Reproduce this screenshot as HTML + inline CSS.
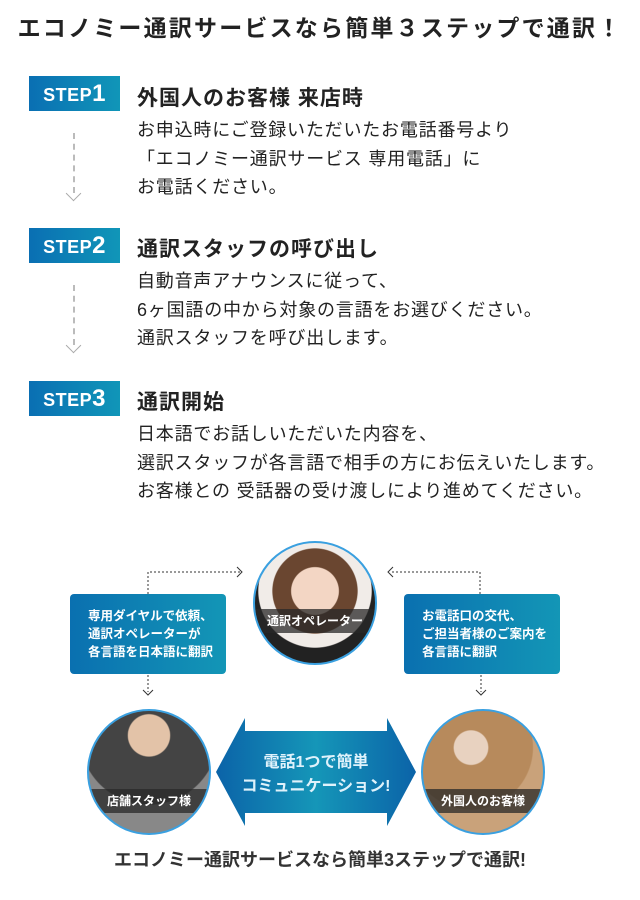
<!DOCTYPE html>
<html><head><meta charset="utf-8"><style>
body{margin:0;width:640px;height:900px;background:#fff;position:relative;font-family:"Liberation Sans","Noto Sans CJK JP",sans-serif;color:#222;overflow:hidden}
.a{position:absolute;white-space:nowrap}
.title{left:0;width:640px;text-align:center;top:9px;font-size:23px;font-weight:bold;letter-spacing:2.2px}
.badge{left:29px;width:91px;height:35px;background:linear-gradient(90deg,#0a6fb3,#1096b8);color:#fff;font-weight:bold;font-size:18px;line-height:35px;text-align:center;letter-spacing:0.5px}
.badge b{font-size:24px}
.h{left:137px;font-size:21px;font-weight:bold;letter-spacing:1px}
.p{left:137px;font-size:18px;line-height:28.5px;letter-spacing:0.8px}
.dash{left:73px;width:0;border-left:2px dashed #bbb}
.chev{width:10px;height:10px;border-right:1.5px solid #aaa;border-bottom:1.5px solid #aaa;transform:rotate(45deg)}
.box{width:156px;height:80px;border-radius:4px;background:linear-gradient(90deg,#0a70b0,#1396b6);color:#fff;font-size:12.5px;font-weight:bold;line-height:18px;box-sizing:border-box;padding:13px 0 0 18px}
.circ{border-radius:50%;border:2px solid #3aa0e0;overflow:hidden;box-sizing:border-box}
.lab{position:absolute;left:0;right:0;height:24px;background:rgba(40,40,40,.75);color:#fff;font-size:12px;font-weight:bold;text-align:center;line-height:24px}
</style></head><body>
<div class="a title">エコノミー通訳サービスなら簡単３ステップで通訳！</div>

<div class="a badge" style="top:76px">STEP<b>1</b></div>
<div class="a h" style="top:82px">外国人のお客様 来店時</div>
<div class="a p" style="top:116px">お申込時にご登録いただいたお電話番号より<br>「エコノミー通訳サービス 専用電話」に<br>お電話ください。</div>
<div class="a dash" style="top:133px;height:60px"></div>
<div class="a chev" style="left:68px;top:188px"></div>

<div class="a badge" style="top:228px">STEP<b>2</b></div>
<div class="a h" style="top:233px">通訳スタッフの呼び出し</div>
<div class="a p" style="top:267px">自動音声アナウンスに従って、<br>6ヶ国語の中から対象の言語をお選びください。<br>通訳スタッフを呼び出します。</div>
<div class="a dash" style="top:285px;height:60px"></div>
<div class="a chev" style="left:68px;top:340px"></div>

<div class="a badge" style="top:381px">STEP<b>3</b></div>
<div class="a h" style="top:386px">通訳開始</div>
<div class="a p" style="top:420px">日本語でお話しいただいた内容を、<br>選訳スタッフが各言語で相手の方にお伝えいたします。<br>お客様との 受話器の受け渡しにより進めてください。</div>

<svg class="a" style="left:0;top:530px" width="640" height="320">
<g fill="none" stroke="#333" stroke-dasharray="2,2" stroke-width="1">
<path d="M148 64 V42 H240"/><path d="M480 64 V42 H390"/>
<path d="M148 145 V162"/><path d="M481 145 V162"/>
</g>
<g fill="none" stroke="#333" stroke-width="1">
<path d="M237 37 l5 5 -5 5"/><path d="M393 37 l-5 5 5 5"/>
<path d="M143 160 l5 5 5 -5"/><path d="M476 160 l5 5 5 -5"/>
</g>
<defs><linearGradient id="g" x1="0" x2="1"><stop offset="0" stop-color="#0b63a8"/><stop offset=".5" stop-color="#1596b8"/><stop offset="1" stop-color="#0b63a8"/></linearGradient></defs>
<path d="M216 242 L245 188 V201 H387 V188 L416 242 L387 296 V283 H245 V296 Z" fill="url(#g)"/>
<text x="316" y="237" text-anchor="middle" fill="#dff2fb" font-size="16" font-weight="bold" font-family="Liberation Sans,Noto Sans CJK JP,sans-serif">電話1つで簡単</text>
<text x="316" y="261" text-anchor="middle" fill="#dff2fb" font-size="16" font-weight="bold" font-family="Liberation Sans,Noto Sans CJK JP,sans-serif">コミュニケーション!</text>
</svg>

<div class="a box" style="left:70px;top:594px">専用ダイヤルで依頼、<br>通訳オペレーターが<br>各言語を日本語に翻訳</div>
<div class="a box" style="left:404px;top:594px">お電話口の交代、<br>ご担当者様のご案内を<br>各言語に翻訳</div>

<div class="a circ" style="left:253px;top:541px;width:124px;height:124px;background:radial-gradient(circle at 50% 40%,#f3d6c4 0 25%,#6a4630 26% 45%,#f1ece8 46% 60%,#222 61%)"><div class="lab" style="top:66px">通訳オペレーター</div></div>
<div class="a circ" style="left:87px;top:709px;width:124px;height:126px;background:radial-gradient(circle at 50% 20%,#e3c3a8 0 18%,#444 19% 60%,#888 61%)"><div class="lab" style="top:78px">店舗スタッフ様</div></div>
<div class="a circ" style="left:421px;top:709px;width:124px;height:126px;background:radial-gradient(circle at 40% 30%,#e8d2c0 0 15%,#b78a5c 16% 55%,#c9a27a 56%)"><div class="lab" style="top:78px">外国人のお客様</div></div>

<div class="a" style="left:0;width:640px;text-align:center;top:846px;font-size:18px;font-weight:bold;color:#333">エコノミー通訳サービスなら簡単3ステップで通訳!</div>
</body></html>
